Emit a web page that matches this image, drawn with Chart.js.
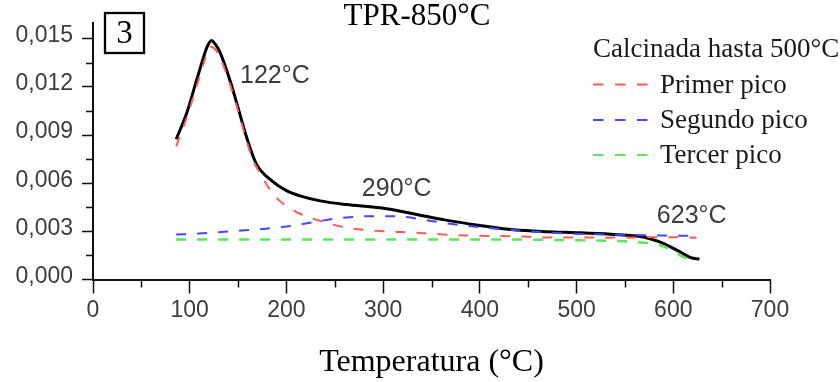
<!DOCTYPE html>
<html><head><meta charset="utf-8">
<script src="https://cdn.jsdelivr.net/npm/chart.js@4"></script>
<style>html,body{margin:0;padding:0;background:#fff}#wrap{width:840px;height:382px}</style>
</head><body><div id="wrap"><canvas id="c" width="840" height="382"></canvas></div>
<script>
// ---- data ----
const chartTitle = 'TPR-850°C';
const panelLabel = '3';
const xAxisTitle = 'Temperatura (°C)';
const legendTitle = 'Calcinada hasta 500°C';
const seriesNames = ['Primer pico', 'Segundo pico', 'Tercer pico'];

const xTicks = [0, 100, 200, 300, 400, 500, 600, 700];
const xMinorTicks = [50, 150, 250, 350, 450, 550, 650];
const yTicks = [0, 0.003, 0.006, 0.009, 0.012, 0.015];
const yMinorTicks = [0.0015, 0.0045, 0.0075, 0.0105, 0.0135];

const totalT = [86, 97, 107, 114, 118, 122.5, 126, 131, 142, 152, 159, 169, 185, 200, 214, 235, 262, 297, 331, 365, 400, 435, 470, 500, 535, 569, 586, 597, 607, 618, 627];
const totalY = [0.00874, 0.0104, 0.0124, 0.0138, 0.0145, 0.0149, 0.0147, 0.0142, 0.01234, 0.01028, 0.00883, 0.00719, 0.00615, 0.00554, 0.00521, 0.0049, 0.00467, 0.00447, 0.0041, 0.0037, 0.00337, 0.0031, 0.00298, 0.00292, 0.00282, 0.00265, 0.00234, 0.00203, 0.00172, 0.00136, 0.00127];

const primerT = [86, 97, 107, 114, 122, 127, 131, 142, 152, 159, 165, 173, 183, 193, 200, 214, 238, 262, 297, 331, 383, 435, 469, 534, 603, 624];
const primerY = [0.0083, 0.0101, 0.0120, 0.0134, 0.0145, 0.0143, 0.0139, 0.0121, 0.0101, 0.0086, 0.0075, 0.0066, 0.0056, 0.0049, 0.0046, 0.0041, 0.0036, 0.00323, 0.00302, 0.00292, 0.00275, 0.00269, 0.00262, 0.00261, 0.00264, 0.00261];

const segundoT = [86, 110, 145, 179, 207, 228, 262, 297, 324, 348, 383, 417, 452, 479, 520, 586, 624];
const segundoY = [0.0028, 0.00286, 0.00302, 0.00317, 0.00335, 0.00358, 0.00387, 0.00395, 0.00389, 0.00366, 0.00337, 0.00317, 0.0030, 0.0029, 0.00282, 0.00275, 0.00272];

const tercerT = [86, 200, 300, 400, 493, 540, 562, 586, 600, 610, 616];
const tercerY = [0.0025, 0.0025, 0.0025, 0.0025, 0.00245, 0.0024, 0.00234, 0.00213, 0.0018, 0.00141, 0.0013];

const annotTexts = ['122°C', '290°C', '623°C'];
const annotX = [152, 278, 583];
const annotY = [0.01223, 0.00523, 0.00351];

const seriesColors = ['#ff5a5a', '#4646ff', '#5ae65a'];

// ---- font selection ----
function pickFont(cands) {
  const c = document.createElement('canvas').getContext('2d');
  const s = '0,015 123456789';
  c.font = '40px monospace';
  const w1 = c.measureText(s).width;
  for (const f of cands) {
    c.font = '40px "' + f + '", monospace';
    if (Math.abs(c.measureText(s).width - w1) > 0.5) return f;
  }
  return null;
}
const narrow = pickFont(['Liberation Sans Narrow', 'Arial Narrow']);
const tickFont = narrow ? {family: '"' + narrow + '"', size: 25} : {family: '"Liberation Sans", Arial, sans-serif', size: 23};
const serif = '"Liberation Serif", "Times New Roman", serif';

function pts(xs, ys) { return xs.map((x, i) => ({x: x, y: ys[i]})); }

const overlay = {
  id: 'overlay',
  afterDraw(chart) {
    const ctx = chart.ctx, xs = chart.scales.x, ys = chart.scales.y, a = chart.chartArea;
    ctx.save();
    // minor ticks
    ctx.strokeStyle = '#111'; ctx.lineWidth = 1.5;
    xMinorTicks.forEach(v => {
      const p = Math.round(xs.getPixelForValue(v)) + 0.5;
      ctx.beginPath(); ctx.moveTo(p, a.bottom); ctx.lineTo(p, a.bottom + 8); ctx.stroke();
    });
    yMinorTicks.forEach(v => {
      const p = Math.round(ys.getPixelForValue(v)) + 0.5;
      ctx.beginPath(); ctx.moveTo(a.left - 7, p); ctx.lineTo(a.left, p); ctx.stroke();
    });
    // title
    ctx.fillStyle = '#000'; ctx.textAlign = 'center'; ctx.textBaseline = 'alphabetic';
    ctx.font = '31px ' + serif;
    ctx.fillText(chartTitle, 417, 25);
    // panel label box
    ctx.lineWidth = 2.3; ctx.strokeStyle = '#000';
    ctx.strokeRect(105, 13, 39, 40);
    ctx.font = '33px ' + serif;
    ctx.fillText(panelLabel, 124.5, 43);
    // annotations
    ctx.fillStyle = '#3c3c3c'; ctx.textAlign = 'left';
    ctx.font = '25px "Liberation Sans", Arial, sans-serif';
    annotTexts.forEach((t, i) => ctx.fillText(t, xs.getPixelForValue(annotX[i]), ys.getPixelForValue(annotY[i])));
    // legend
    ctx.fillStyle = '#1a1a1a';
    ctx.font = '27px ' + serif;
    ctx.fillText(legendTitle, 593, 57);
    const rows = [92.5, 128, 163];
    seriesNames.forEach((n, i) => {
      ctx.fillStyle = '#1a1a1a';
      ctx.fillText(n, 660, rows[i]);
      ctx.strokeStyle = seriesColors[i]; ctx.lineWidth = 2;
      ctx.setLineDash([10.5, 11.5]);
      ctx.beginPath(); ctx.moveTo(593, rows[i] - 8); ctx.lineTo(648, rows[i] - 8); ctx.stroke();
      ctx.setLineDash([]);
    });
    ctx.restore();
  }
};

const dsBase = {pointRadius: 0, fill: false, cubicInterpolationMode: 'monotone'};
new Chart(document.getElementById('c'), {
  type: 'line',
  data: {
    datasets: [
      Object.assign({label: legendTitle, data: pts(totalT, totalY), borderColor: '#000', borderWidth: 3, order: 4}, dsBase),
      Object.assign({label: seriesNames[0], data: pts(primerT, primerY), borderColor: seriesColors[0], borderWidth: 2, borderDash: [10, 11], order: 1}, dsBase),
      Object.assign({label: seriesNames[1], data: pts(segundoT, segundoY), borderColor: seriesColors[1], borderWidth: 2, borderDash: [10, 11], order: 2}, dsBase),
      Object.assign({label: seriesNames[2], data: pts(tercerT, tercerY), borderColor: seriesColors[2], borderWidth: 2.5, borderDash: [10, 11], order: 3}, dsBase)
    ]
  },
  options: {
    responsive: false, animation: false, devicePixelRatio: 1,
    layout: {padding: {left: 0, right: 70, top: 21, bottom: 0}},
    plugins: {legend: {display: false}, title: {display: false}, tooltip: {enabled: false}},
    scales: {
      x: {
        type: 'linear', min: 0, max: 700,
        afterBuildTicks: s => { s.ticks = xTicks.map(v => ({value: v})); },
        afterFit: s => { s.height = 102.5; },
        grid: {display: true, drawOnChartArea: false, drawTicks: true, tickLength: 14, color: '#111', tickWidth: 1.5},
        border: {display: true, color: '#111', width: 2},
        ticks: {autoSkip: false, maxRotation: 0, padding: 3, color: '#3c3c3c', font: tickFont, callback: v => String(v)},
        title: {display: true, text: xAxisTitle, color: '#000', font: {family: serif, size: 32}, padding: {top: 0, bottom: 0}}
      },
      y: {
        type: 'linear', min: 0, max: 0.016,
        afterBuildTicks: s => { s.ticks = yTicks.map(v => ({value: v})); },
        afterFit: s => { s.width = 93; },
        grid: {display: true, drawOnChartArea: false, drawTicks: true, tickLength: 11, color: '#111', tickWidth: 1.5},
        border: {display: true, color: '#111', width: 2},
        ticks: {autoSkip: false, padding: 9, labelOffset: -3, color: '#3c3c3c', font: tickFont, callback: v => v.toFixed(3).replace('.', ',')}
      }
    }
  },
  plugins: [overlay]
});
</script>
</body></html>
